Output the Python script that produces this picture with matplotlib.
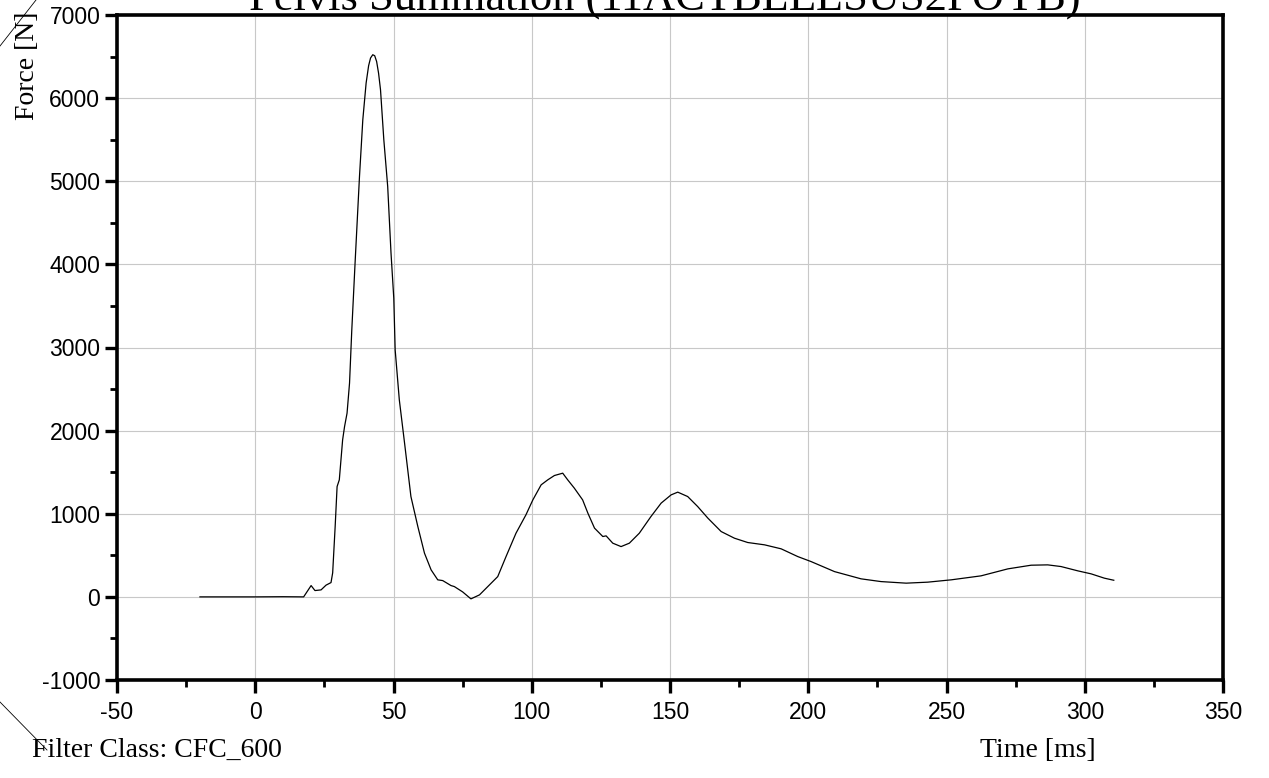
import matplotlib
matplotlib.use("Agg")
import matplotlib.pyplot as plt
from matplotlib.lines import Line2D
from matplotlib.ticker import MultipleLocator

plt.rcParams["axes.unicode_minus"] = False

# values
time_ms = [-20, 0, 10, 17.5, 20.2, 21.6, 23.8, 25.6, 27.4, 28.0, 28.9, 29.6, 30.4,
           31.6, 32.3, 33.2, 34.1, 34.9, 36.1, 37.7, 38.9, 40.1, 41.0, 41.7, 42.5,
           43.2, 43.9, 44.6, 45.3, 46.5, 47.9, 49.1, 50.1, 50.6, 52.1, 54.0, 56.3,
           58.8, 61.2, 63.6, 66.0, 67.8, 70.8, 72.0, 75.0, 78.0, 81.1, 84.1, 87.7,
           90.7, 94.3, 97.9, 100.4, 103.4, 105.8, 108.2, 111.2, 113.0, 115.4,
           118.4, 120.3, 122.7, 125.7, 126.9, 129.3, 132.3, 135.3, 138.9, 143.1,
           146.8, 150.4, 152.8, 156.4, 160.0, 163.7, 168.5, 173.3, 178.1, 184.2,
           190.2, 196.2, 201.0, 209.5, 219.1, 226.3, 235.4, 243.2, 251.7, 262.5,
           272.2, 280.6, 286.6, 291.4, 297.5, 302.3, 307.1, 310.5]
force_n = [0, 0, 2, 0, 136, 76, 84, 141, 172, 289, 846, 1327, 1408,
           1889, 2049, 2210, 2572, 3200, 4015, 5058, 5740, 6182, 6390, 6483, 6522,
           6510, 6440, 6300, 6101, 5499, 4937, 4136, 3594, 2972, 2371, 1850, 1207,
           846, 526, 325, 205, 196, 136, 124, 60, -24, 24, 124, 244,
           485, 766, 987, 1167, 1348, 1408, 1460, 1488, 1408, 1308,
           1167, 1007, 827, 726, 734, 646, 605, 646, 766, 966,
           1128, 1227, 1260, 1207, 1087, 947, 786, 706, 654, 626,
           578, 485, 425, 304, 217, 184, 165, 177, 205, 253,
           337, 381, 385, 365, 313, 277, 225, 200]

x_ticks = [-50, 0, 50, 100, 150, 200, 250, 300, 350]
y_ticks = [-1000, 0, 1000, 2000, 3000, 4000, 5000, 6000, 7000]

serif = ["Liberation Serif", "DejaVu Serif"]
sans = ["Liberation Sans", "DejaVu Sans"]

fig = plt.figure(figsize=(12.69, 7.78), dpi=100)
ax = fig.add_axes([117 / 1269, 1 - 680 / 778, 1106 / 1269, 665 / 778])

ax.plot(time_ms, force_n, color="black", linewidth=0.9)

ax.set_xlim(-50, 350)
ax.set_ylim(-1000, 7000)
ax.set_xticks(x_ticks)
ax.set_yticks(y_ticks)
ax.xaxis.set_minor_locator(MultipleLocator(25))
ax.yaxis.set_minor_locator(MultipleLocator(500))
ax.grid(True, which="major", color="#c8c8c8", linewidth=0.8)
ax.set_axisbelow(True)

for s in ax.spines.values():
    s.set_linewidth(2.6)
ax.tick_params(which="major", direction="out", length=9, width=2.4,
               labelsize=16.5, color="black")
ax.tick_params(axis="x", which="major", pad=6)
ax.tick_params(axis="y", which="major", pad=3)
ax.tick_params(which="minor", direction="out", length=5, width=2.0)
for lab in ax.get_xticklabels() + ax.get_yticklabels():
    lab.set_family(sans)

# title, partly above the figure edge as in the source
fig.text(665 / 1269, 1 - 10 / 778, "Pelvis Summation (11ACTBLELSUS2FOYB)",
         ha="center", va="baseline", fontsize=32, family=serif)
fig.text(28 / 1269, 1 - 12 / 778, "Force [N]", rotation=90, ha="center",
         va="top", fontsize=20, family=serif)
fig.text(32 / 1269, 1 - 757 / 778, "Filter Class: CFC_600", ha="left",
         va="baseline", fontsize=20, family=serif)
fig.text(980 / 1269, 1 - 757 / 778, "Time [ms]", ha="left",
         va="baseline", fontsize=20, family=serif)

# the two thin diagonal strokes at the left corners
fig.add_artist(Line2D([0, 36 / 1269], [1 - 46 / 778, 1], color="black",
                      linewidth=0.6, transform=fig.transFigure))
fig.add_artist(Line2D([0, 47 / 1269], [1 - 702 / 778, 1 - 750 / 778],
                      color="black", linewidth=0.6, transform=fig.transFigure))

fig.savefig("out.png", dpi=100)
